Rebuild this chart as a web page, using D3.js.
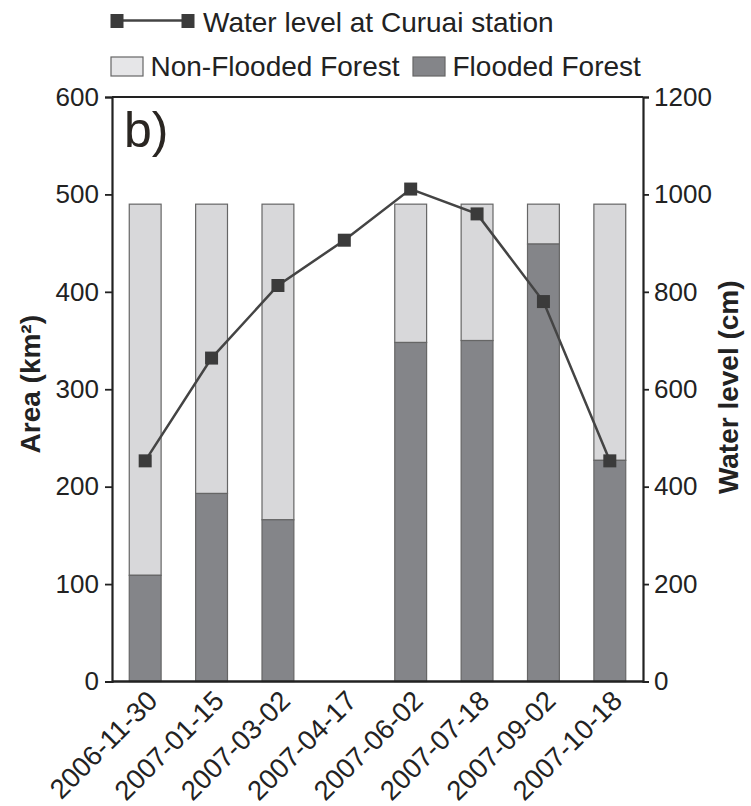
<!DOCTYPE html>
<html>
<head>
<meta charset="utf-8">
<script src="https://cdn.jsdelivr.net/npm/d3@7"></script>
<style>
  html, body { margin: 0; padding: 0; background: #fff; }
  svg { display: block; font-family: "Liberation Sans", Arial, sans-serif; }
</style>
</head>
<body>
<svg id="chart" width="751" height="806"></svg>
<script>
// Acquisition dates (x categories)
const dates = ["2006-11-30", "2007-01-15", "2007-03-02", "2007-04-17",
               "2007-06-02", "2007-07-18", "2007-09-02", "2007-10-18"];
// Forest area in km² (null = no image for that date)
const flooded    = [109, 193, 166, null, 348, 350, 449, 227];
const nonFlooded = [381, 297, 324, null, 142, 140,  41, 263];
// Water level at Curuai station, cm
const waterLevel = [453, 664, 813, 906, 1011, 960, 780, 453];
// Axis ticks
const areaTicks  = [0, 100, 200, 300, 400, 500, 600];
const levelTicks = [0, 200, 400, 600, 800, 1000, 1200];

const svg = d3.select("#chart");
const pLeft = 112, pRight = 643, pTop = 97, pBottom = 681.5;
const ink = "#222";

const x = d3.scaleBand().domain(dates).range([pLeft, pRight])
  .paddingInner(0.52).paddingOuter(0.26);
const y = d3.scaleLinear().domain([0, 600]).range([pBottom, pTop]);
const y2 = d3.scaleLinear().domain([0, 1200]).range([pBottom, pTop]);

const cLight = "#d8d8da", cDark = "#848589", cEdge = "#666";

// Stacked bars
const rows = dates.map((d, i) => ({ date: d, flooded: flooded[i], nonFlooded: nonFlooded[i] }))
  .filter(r => r.flooded != null);
const bars = svg.append("g");
rows.forEach(r => {
  bars.append("rect")
    .attr("x", x(r.date)).attr("width", x.bandwidth())
    .attr("y", y(r.flooded + r.nonFlooded))
    .attr("height", y(r.flooded) - y(r.flooded + r.nonFlooded))
    .attr("fill", cLight).attr("stroke", cEdge).attr("stroke-width", 1.2);
  bars.append("rect")
    .attr("x", x(r.date)).attr("width", x.bandwidth())
    .attr("y", y(r.flooded))
    .attr("height", y(0) - y(r.flooded))
    .attr("fill", cDark).attr("stroke", cEdge).attr("stroke-width", 1.2);
});

// Frame: top border and bottom axis line
svg.append("line").attr("x1", pLeft).attr("x2", pRight).attr("y1", pTop).attr("y2", pTop)
  .attr("stroke", ink).attr("stroke-width", 2);
svg.append("line").attr("x1", pLeft).attr("x2", pRight).attr("y1", pBottom).attr("y2", pBottom)
  .attr("stroke", ink).attr("stroke-width", 2.5);

// Left axis
const gl = svg.append("g").attr("transform", `translate(${pLeft},0)`)
  .call(d3.axisLeft(y).tickValues(areaTicks).tickFormat(d3.format("d")).tickSize(7).tickPadding(6));
// Right axis
const gr = svg.append("g").attr("transform", `translate(${pRight},0)`)
  .call(d3.axisRight(y2).tickValues(levelTicks).tickFormat(d3.format("d")).tickSize(6).tickPadding(5));
[gl, gr].forEach(g => {
  g.select(".domain").attr("stroke", ink).attr("stroke-width", 2.2);
  g.selectAll(".tick line").attr("stroke", ink).attr("stroke-width", 1.8);
  g.selectAll(".tick text").attr("fill", ink)
    .style("font-size", "26px").style("font-family", "Liberation Sans, Arial, sans-serif");
});

// Rotated date labels
svg.append("g").selectAll("text").data(dates).join("text")
  .attr("transform", d => `translate(${x(d) + x.bandwidth() / 2 + 14},${pBottom + 21}) rotate(-45)`)
  .attr("text-anchor", "end")
  .attr("fill", ink)
  .style("font-size", "27.5px")
  .text(d => d);

// Axis titles
svg.append("text")
  .attr("transform", `translate(40,${(pTop + pBottom) / 2 - 5}) rotate(-90)`)
  .attr("text-anchor", "middle").attr("fill", ink)
  .style("font-size", "28px").style("font-weight", "bold")
  .text("Area (km²)");
svg.append("text")
  .attr("transform", `translate(738,${(pTop + pBottom) / 2 - 2}) rotate(-90)`)
  .attr("text-anchor", "middle").attr("fill", ink)
  .style("font-size", "28px").style("font-weight", "bold")
  .text("Water level (cm)");

// Water level line with square markers
const line = d3.line().x((d, i) => x(dates[i]) + x.bandwidth() / 2).y(d => y2(d));
svg.append("path").datum(waterLevel)
  .attr("d", line).attr("fill", "none").attr("stroke", "#444").attr("stroke-width", 2.5);
const m = 13;
svg.append("g").selectAll("rect").data(waterLevel).join("rect")
  .attr("x", (d, i) => x(dates[i]) + x.bandwidth() / 2 - m / 2)
  .attr("y", d => y2(d) - m / 2)
  .attr("width", m).attr("height", m)
  .attr("fill", "#3b3b3b");

// Panel label
svg.append("text").attr("x", 124).attr("y", 147)
  .attr("fill", "#2a2622").style("font-size", "50px")
  .text("b)");

// Legend
const lg = svg.append("g");
lg.append("line").attr("x1", 117).attr("x2", 188).attr("y1", 20.5).attr("y2", 20.5)
  .attr("stroke", "#444").attr("stroke-width", 2.5);
[117, 188].forEach(cx => lg.append("rect")
  .attr("x", cx - 6.5).attr("y", 14).attr("width", 13).attr("height", 14).attr("fill", "#3b3b3b"));
lg.append("text").attr("x", 203).attr("y", 31.5).attr("fill", ink)
  .style("font-size", "28px").text("Water level at Curuai station");

lg.append("rect").attr("x", 111).attr("y", 57).attr("width", 32).attr("height", 19)
  .attr("fill", "#e6e6e8").attr("stroke", cEdge).attr("stroke-width", 1.2);
lg.append("text").attr("x", 150.5).attr("y", 76).attr("fill", ink)
  .style("font-size", "28px").text("Non-Flooded Forest");
lg.append("rect").attr("x", 413).attr("y", 57).attr("width", 32).attr("height", 19)
  .attr("fill", cDark).attr("stroke", cEdge).attr("stroke-width", 1.2);
lg.append("text").attr("x", 452.5).attr("y", 76).attr("fill", ink)
  .style("font-size", "28px").text("Flooded Forest");
</script>
</body>
</html>
